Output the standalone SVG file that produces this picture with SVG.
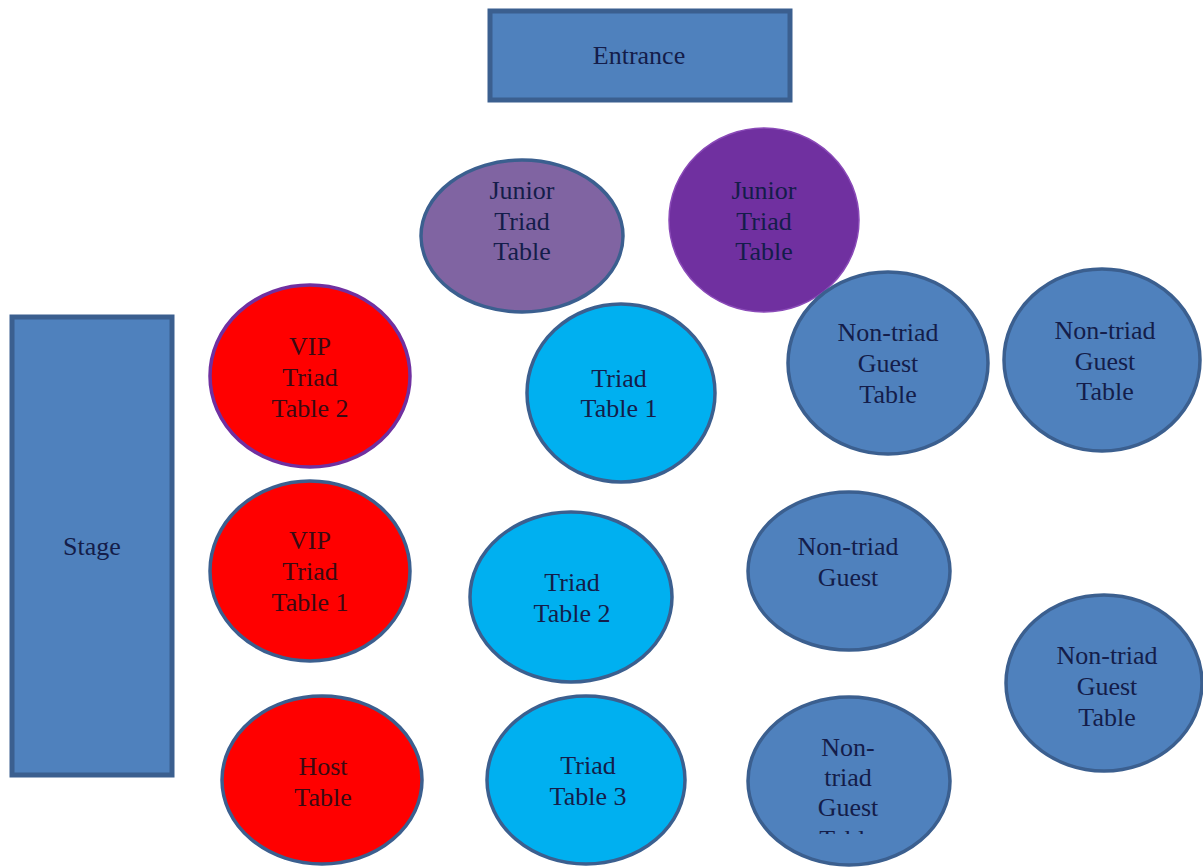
<svg xmlns="http://www.w3.org/2000/svg" width="1203" height="867" viewBox="0 0 1203 867">
  <style>
    .lbl { font-family: 'Liberation Serif', 'DejaVu Serif', serif; font-size: 26px; text-anchor: middle; fill: #141d4a; }
    .lbl-red { fill: #3a0a12; }
    .block { fill: #4f81bd; stroke: #3b5f8f; stroke-width: 5; }
    .guest { fill: #4f81bd; stroke: #3b5f8f; stroke-width: 3.5; }
    .triad { fill: #00b0f0; stroke: #3b5f8f; stroke-width: 3.5; }
    .vip { fill: #ff0000; stroke: #3b5f8f; stroke-width: 3.5; }
    .junior { fill: #8064a2; stroke: #3b5f8f; stroke-width: 3.5; }
    .junior-dark { fill: #7030a0; stroke: #8a4ab8; stroke-width: 1.5; }
  </style>
  <defs>
    <!-- the last line of the bottom guest table overflows its text box and is cut off -->
    <clipPath id="overflow-cut">
      <rect x="740" y="690" width="220" height="144"/>
    </clipPath>
  </defs>
  <rect width="1203" height="867" fill="#ffffff"/>

  <g id="entrance">
    <rect class="block" x="490" y="11" width="300" height="89"/>
    <text class="lbl" x="639" y="64">Entrance</text>
  </g>

  <g id="stage">
    <rect class="block" x="12" y="317" width="160" height="458"/>
    <text class="lbl" x="92" y="555">Stage</text>
  </g>

  <g id="junior-triad-1">
    <ellipse class="junior" cx="522" cy="236" rx="101" ry="76"/>
    <text class="lbl" x="522" y="199">Junior</text>
    <text class="lbl" x="522" y="230">Triad</text>
    <text class="lbl" x="522" y="260">Table</text>
  </g>

  <g id="junior-triad-2">
    <ellipse class="junior-dark" cx="764" cy="220" rx="95" ry="92"/>
    <text class="lbl" x="764" y="199">Junior</text>
    <text class="lbl" x="764" y="230">Triad</text>
    <text class="lbl" x="764" y="260">Table</text>
  </g>

  <g id="vip-triad-2">
    <ellipse class="vip" cx="310" cy="376" rx="100" ry="91" style="stroke:#7030a0"/>
    <text class="lbl lbl-red" x="310" y="355">VIP</text>
    <text class="lbl lbl-red" x="310" y="386">Triad</text>
    <text class="lbl lbl-red" x="310" y="417">Table 2</text>
  </g>

  <g id="vip-triad-1">
    <ellipse class="vip" cx="310" cy="571" rx="100" ry="90"/>
    <text class="lbl lbl-red" x="310" y="549">VIP</text>
    <text class="lbl lbl-red" x="310" y="580">Triad</text>
    <text class="lbl lbl-red" x="310" y="611">Table 1</text>
  </g>

  <g id="host-table">
    <ellipse class="vip" cx="322" cy="780" rx="100" ry="84"/>
    <text class="lbl lbl-red" x="323" y="775">Host</text>
    <text class="lbl lbl-red" x="323" y="806">Table</text>
  </g>

  <g id="triad-table-1">
    <ellipse class="triad" cx="621" cy="393" rx="94" ry="89"/>
    <text class="lbl" x="619" y="387">Triad</text>
    <text class="lbl" x="619" y="417">Table 1</text>
  </g>

  <g id="triad-table-2">
    <ellipse class="triad" cx="571" cy="597" rx="101" ry="85"/>
    <text class="lbl" x="572" y="591">Triad</text>
    <text class="lbl" x="572" y="622">Table 2</text>
  </g>

  <g id="triad-table-3">
    <ellipse class="triad" cx="586" cy="780" rx="99" ry="84"/>
    <text class="lbl" x="588" y="774">Triad</text>
    <text class="lbl" x="588" y="805">Table 3</text>
  </g>

  <g id="guest-table-1">
    <ellipse class="guest" cx="888" cy="363" rx="100" ry="91"/>
    <text class="lbl" x="888" y="341">Non-triad</text>
    <text class="lbl" x="888" y="372">Guest</text>
    <text class="lbl" x="888" y="403">Table</text>
  </g>

  <g id="guest-table-2">
    <ellipse class="guest" cx="1102" cy="360" rx="98" ry="91"/>
    <text class="lbl" x="1105" y="339">Non-triad</text>
    <text class="lbl" x="1105" y="370">Guest</text>
    <text class="lbl" x="1105" y="400">Table</text>
  </g>

  <g id="guest-table-3">
    <ellipse class="guest" cx="849" cy="571" rx="101" ry="79"/>
    <text class="lbl" x="848" y="555">Non-triad</text>
    <text class="lbl" x="848" y="586">Guest</text>
  </g>

  <g id="guest-table-4">
    <ellipse class="guest" cx="1104" cy="683" rx="98" ry="88"/>
    <text class="lbl" x="1107" y="664">Non-triad</text>
    <text class="lbl" x="1107" y="695">Guest</text>
    <text class="lbl" x="1107" y="726">Table</text>
  </g>

  <g id="guest-table-5">
    <ellipse class="guest" cx="849" cy="781" rx="101" ry="84"/>
    <g clip-path="url(#overflow-cut)">
      <text class="lbl" x="848" y="756">Non-</text>
      <text class="lbl" x="848" y="786">triad</text>
      <text class="lbl" x="848" y="816">Guest</text>
      <text class="lbl" x="848" y="848">Table</text>
    </g>
  </g>

  <g id="connectors"/>
</svg>
